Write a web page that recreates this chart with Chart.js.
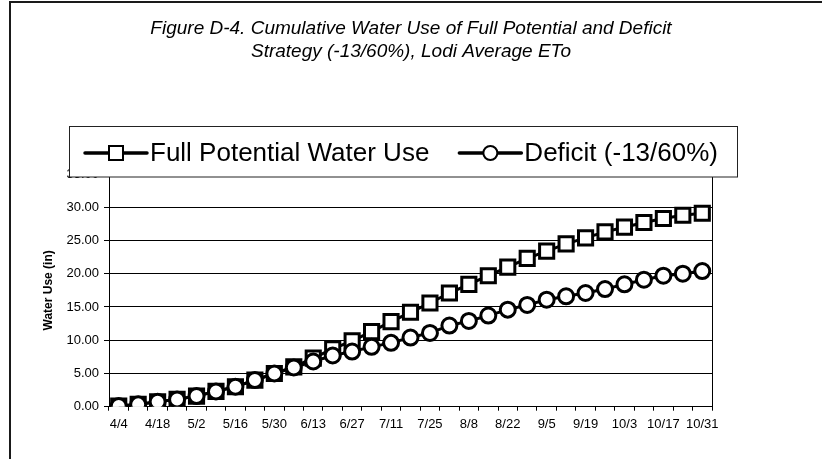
<!DOCTYPE html>
<html>
<head>
<meta charset="utf-8">
<script src="https://cdn.jsdelivr.net/npm/chart.js@4.4.1/dist/chart.umd.min.js"></script>
<style>
  html, body { margin: 0; padding: 0; background: #fff; }
  #wrap { width: 822px; height: 459px; position: relative; }
</style>
</head>
<body>
<div id="wrap"><canvas id="chart"></canvas></div>
<script>
const FONT = "'Liberation Sans', Arial, Helvetica, sans-serif";

const titleLines = [
  "Figure D-4. Cumulative Water Use of Full Potential and Deficit",
  "Strategy (-13/60%), Lodi Average ETo",
];

// weekly dates, every other one is labelled on the axis
const weeks = [
  "4/4", "4/11", "4/18", "4/25", "5/2", "5/9", "5/16", "5/23", "5/30",
  "6/6", "6/13", "6/20", "6/27", "7/4", "7/11", "7/18", "7/25", "8/1",
  "8/8", "8/15", "8/22", "8/29", "9/5", "9/12", "9/19", "9/26", "10/3",
  "10/10", "10/17", "10/24", "10/31",
];

const fullUse = [
  0.1, 0.35, 0.75, 1.1, 1.6, 2.3, 3.0, 4.0, 5.0, 6.0, 7.3, 8.7, 9.9,
  11.3, 12.8, 14.2, 15.6, 17.1, 18.4, 19.7, 21.0, 22.3, 23.4, 24.5,
  25.4, 26.3, 27.0, 27.7, 28.3, 28.8, 29.1,
];

const deficitUse = [
  0.1, 0.35, 0.75, 1.1, 1.6, 2.3, 3.0, 4.0, 5.0, 5.9, 6.8, 7.7, 8.3,
  9.0, 9.6, 10.4, 11.1, 12.2, 12.9, 13.7, 14.6, 15.3, 16.1, 16.6,
  17.1, 17.7, 18.4, 19.1, 19.7, 20.0, 20.4,
];

const yMin = 0, yMax = 35, yStep = 5;

// outer frame, plot frame, title and the boxed legend that sits over the plot top
const decor = {
  id: "decor",
  beforeDraw(chart) {
    const { ctx, width } = chart;
    ctx.save();
    ctx.fillStyle = "#1a1a1a";
    ctx.fillRect(9, 1, 2, chart.height);
    ctx.fillRect(9, 1, width - 9, 2);

    ctx.fillStyle = "#000";
    ctx.font = `italic 19px ${FONT}`;
    ctx.textAlign = "center";
    ctx.textBaseline = "middle";
    titleLines.forEach((t, i) => ctx.fillText(t, width / 2, 29 + i * 23));
    ctx.restore();
  },
  afterDraw(chart) {
    const { ctx, chartArea: a } = chart;
    ctx.save();
    ctx.strokeStyle = "#000";
    ctx.lineWidth = 1;
    ctx.beginPath();
    ctx.moveTo(a.right + 0.5, a.top);
    ctx.lineTo(a.right + 0.5, a.bottom);
    ctx.stroke();

    // legend
    const box = { x: 69.5, y: 126.5, w: 668, h: 50.5 };
    ctx.fillStyle = "#fff";
    ctx.fillRect(box.x, box.y, box.w, box.h);
    ctx.strokeStyle = "#222";
    ctx.strokeRect(box.x, box.y, box.w, box.h);

    const cy = 153;
    let x = 85;
    ctx.font = `26px ${FONT}`;
    ctx.textBaseline = "middle";
    ctx.textAlign = "left";
    chart.data.datasets.forEach((ds) => {
      ctx.strokeStyle = "#000";
      ctx.lineWidth = 3.5;
      ctx.lineCap = "round";
      ctx.beginPath();
      ctx.moveTo(x, cy);
      ctx.lineTo(x + 62, cy);
      ctx.stroke();

      const mx = x + 31;
      ctx.fillStyle = "#fff";
      ctx.lineWidth = 2;
      ctx.beginPath();
      if (ds.pointStyle === "rect") ctx.rect(mx - 7, cy - 7, 14, 14);
      else ctx.arc(mx, cy, 7, 0, Math.PI * 2);
      ctx.fill();
      ctx.stroke();

      ctx.fillStyle = "#000";
      ctx.fillText(ds.label, x + 65, cy + 1);
      x += 65 + ctx.measureText(ds.label).width + 30;
    });
    ctx.restore();
  },
};

new Chart(document.getElementById("chart"), {
  type: "line",
  data: {
    labels: weeks,
    datasets: [
      {
        label: "Full Potential Water Use",
        data: fullUse,
        order: 1,
        pointStyle: "rect",
        pointRadius: 10,
        borderColor: "#000",
        borderWidth: 3,
        pointBackgroundColor: "#fff",
        pointBorderColor: "#000",
        pointBorderWidth: 3,
        tension: 0,
      },
      {
        label: "Deficit (-13/60%)",
        data: deficitUse,
        order: 0,
        pointStyle: "circle",
        pointRadius: 7.5,
        borderColor: "#000",
        borderWidth: 3,
        pointBackgroundColor: "#fff",
        pointBorderColor: "#000",
        pointBorderWidth: 3,
        tension: 0,
      },
    ],
  },
  options: {
    responsive: true,
    maintainAspectRatio: false,
    animation: false,
    layout: { padding: { top: 174, left: 10, right: 110, bottom: 0 } },
    plugins: {
      legend: { display: false },
      title: { display: false },
      tooltip: { enabled: false },
    },
    scales: {
      x: {
        offset: true,
        grid: { offset: true, drawOnChartArea: false, tickLength: 4, color: "#000" },
        border: { color: "#000", width: 1 },
        ticks: {
          autoSkip: false,
          maxRotation: 0,
          padding: 6,
          color: "#000",
          font: { family: FONT, size: 13 },
          callback: (v, i) => (i % 2 === 0 ? weeks[i] : ""),
        },
        afterFit: (s) => { s.height = 52.3; },
      },
      y: {
        min: yMin,
        max: yMax,
        grid: { color: "#000", lineWidth: 1, tickLength: 5 },
        border: { color: "#000", width: 1 },
        ticks: {
          stepSize: yStep,
          padding: 5,
          color: "#000",
          font: { family: FONT, size: 13 },
          callback: (v) => v.toFixed(2),
        },
        title: {
          display: true,
          text: "Water Use (in)",
          color: "#000",
          font: { family: FONT, size: 12, weight: "bold" },
          padding: { top: 31, bottom: 0 },
        },
        afterFit: (s) => { s.width = 99; },
      },
    },
  },
  plugins: [decor],
});
</script>
</body>
</html>
